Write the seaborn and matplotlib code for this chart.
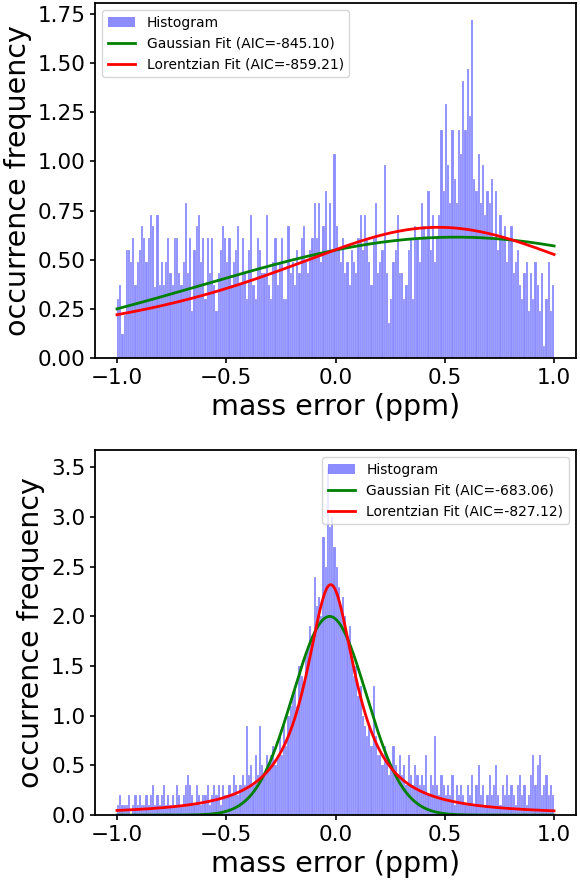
import numpy as np
import pandas as pd
import seaborn as sns
import matplotlib
matplotlib.use("Agg")
import matplotlib.pyplot as plt
from matplotlib.patches import Patch

# ------------------- Data -------------------
bin_edges = np.round(np.arange(-1.0, 1.0001, 0.01), 3)
bin_centers = (bin_edges[:-1] + bin_edges[1:]) / 2

# top panel histogram heights (200 bins, -1..1)
top_heights = [
    0.30, 0.37, 0.12, 0.22, 0.55, 0.55, 0.49, 0.61, 0.37, 0.49,
    0.55, 0.67, 0.61, 0.49, 0.61, 0.73, 0.67, 0.36, 0.73, 0.37,
    0.49, 0.37, 0.49, 0.61, 0.43, 0.37, 0.61, 0.61, 0.43, 0.37,
    0.49, 0.79, 0.43, 0.61, 0.24, 0.55, 0.67, 0.73, 0.49, 0.61,
    0.30, 0.61, 0.43, 0.61, 0.37, 0.24, 0.43, 0.55, 0.67, 0.61,
    0.49, 0.61, 0.37, 0.49, 0.55, 0.67, 0.37, 0.61, 0.43, 0.30,
    0.55, 0.73, 0.37, 0.30, 0.61, 0.55, 0.43, 0.43, 0.73, 0.37,
    0.30, 0.49, 0.61, 0.37, 0.49, 0.61, 0.30, 0.30, 0.67, 0.43,
    0.49, 0.37, 0.55, 0.43, 0.61, 0.67, 0.49, 0.43, 0.55, 0.61,
    0.79, 0.61, 0.79, 0.49, 0.67, 0.85, 0.55, 0.79, 0.55, 1.04,
    0.67, 0.55, 0.49, 0.61, 0.43, 0.49, 0.37, 0.55, 0.49, 0.43,
    0.61, 0.73, 0.55, 0.73, 0.61, 0.49, 0.37, 0.61, 0.79, 0.43,
    0.49, 0.55, 0.98, 0.43, 0.18, 0.30, 0.49, 0.55, 0.73, 0.43,
    0.43, 0.30, 0.37, 0.55, 0.61, 0.30, 0.67, 0.61, 0.49, 0.79,
    0.67, 0.61, 0.85, 0.55, 0.73, 0.49, 0.61, 0.73, 1.16, 0.85,
    1.29, 0.98, 0.79, 1.16, 0.91, 0.79, 1.16, 1.04, 1.41, 1.16,
    1.47, 1.23, 1.72, 0.91, 0.85, 1.04, 0.79, 0.98, 0.73, 0.85,
    0.79, 0.91, 0.61, 0.85, 0.55, 0.73, 0.61, 0.67, 0.49, 0.61,
    0.67, 0.43, 0.49, 0.55, 0.37, 0.30, 0.43, 0.49, 0.24, 0.43,
    0.30, 0.49, 0.37, 0.24, 0.43, 0.06, 0.30, 0.49, 0.24, 0.37,
]

# bottom panel histogram heights (200 bins, -1..1)
bottom_heights = [
    0.1, 0.2, 0.1, 0.1, 0.1, 0.2, 0.0, 0.1, 0.2, 0.1,
    0.2, 0.1, 0.1, 0.2, 0.1, 0.2, 0.3, 0.1, 0.2, 0.1,
    0.2, 0.3, 0.1, 0.2, 0.1, 0.2, 0.1, 0.3, 0.2, 0.1,
    0.2, 0.3, 0.4, 0.3, 0.2, 0.1, 0.3, 0.2, 0.1, 0.2,
    0.2, 0.3, 0.1, 0.2, 0.3, 0.2, 0.3, 0.1, 0.3, 0.2,
    0.2, 0.3, 0.2, 0.4, 0.3, 0.2, 0.3, 0.4, 0.3, 0.9,
    0.4, 0.5, 0.3, 0.6, 0.4, 0.9, 0.5, 0.4, 0.6, 0.5,
    0.6, 0.7, 0.5, 0.6, 0.8, 0.6, 0.9, 0.7, 1.0, 1.1,
    1.2, 1.3, 1.1, 1.5, 1.4, 1.3, 1.6, 1.7, 1.9, 1.8,
    2.4, 2.1, 2.2, 2.0, 2.8, 2.5, 3.5, 2.9, 3.0, 2.7,
    2.5, 2.3, 2.1, 2.2, 2.0, 1.8, 1.9, 1.6, 1.4, 1.5,
    1.2, 1.3, 1.0, 0.9, 0.8, 0.9, 0.7, 1.3, 0.8, 0.6,
    0.6, 0.5, 0.7, 0.6, 0.4, 0.5, 0.7, 0.5, 0.4, 0.6,
    0.4, 0.5, 0.3, 0.6, 0.4, 0.3, 0.5, 0.4, 0.3, 0.4,
    0.3, 0.6, 0.2, 0.4, 0.3, 0.8, 0.3, 0.2, 0.4, 0.3,
    0.2, 0.3, 0.2, 0.4, 0.1, 0.3, 0.2, 0.3, 0.2, 0.1,
    0.3, 0.2, 0.4, 0.1, 0.3, 0.5, 0.2, 0.3, 0.1, 0.2,
    0.4, 0.2, 0.3, 0.5, 0.2, 0.1, 0.3, 0.2, 0.4, 0.2,
    0.3, 0.2, 0.1, 0.3, 0.4, 0.2, 0.3, 0.1, 0.2, 0.4,
    0.6, 0.3, 0.5, 0.6, 0.2, 0.3, 0.4, 0.2, 0.3, 0.2,
]

# fit parameters (amplitude, centre, width)
top_gauss = (0.615, 0.55, 1.155)
top_lorentz = (0.665, 0.47, 1.034)
bottom_gauss = (2.0, -0.027, 0.168)
bottom_lorentz = (2.32, -0.022, 0.14)

top_labels = ["Histogram", "Gaussian Fit (AIC=-845.10)", "Lorentzian Fit (AIC=-859.21)"]
bottom_labels = ["Histogram", "Gaussian Fit (AIC=-683.06)", "Lorentzian Fit (AIC=-827.12)"]


def gaussian(x, a, mu, s):
    return a * np.exp(-(x - mu) ** 2 / (2 * s ** 2))


def lorentzian(x, a, x0, g):
    return a / (1 + ((x - x0) / g) ** 2)


xs = np.linspace(-1, 1, 400)

plt.rcParams['axes.linewidth'] = 1.3
plt.rcParams['xtick.major.width'] = 1.2
plt.rcParams['ytick.major.width'] = 1.2

fig = plt.figure(figsize=(5.8, 8.85), dpi=100)
ax_top = fig.add_axes([0.164, 0.5955, 0.829, 0.401])
ax_bot = fig.add_axes([0.164, 0.079, 0.829, 0.4125])


def draw_panel(ax, heights, gpar, lpar, labels, loc):
    df = pd.DataFrame({'x': bin_centers, 'h': heights})
    sns.histplot(data=df, x='x', weights='h', binwidth=0.01, binrange=(-1.0, 1.0),
                 ax=ax, color='blue', alpha=0.45, linewidth=0.25,
                 edgecolor=(1, 1, 1, 0.5))
    sns.lineplot(x=xs, y=gaussian(xs, *gpar), color='green', lw=2, ax=ax)
    sns.lineplot(x=xs, y=lorentzian(xs, *lpar), color='red', lw=2, ax=ax)
    handles = [Patch(facecolor='blue', alpha=0.45),
               ax.lines[0], ax.lines[1]]
    ax.legend(handles, labels, loc=loc, fontsize=10)
    ax.set_xlim(-1.1, 1.1)
    ax.set_xticks([-1.0, -0.5, 0.0, 0.5, 1.0])
    ax.set_xlabel('mass error (ppm)', fontsize=20.5)
    ax.set_ylabel('occurrence frequency', fontsize=20.5)
    ax.tick_params(labelsize=15.5)


draw_panel(ax_top, top_heights, top_gauss, top_lorentz, top_labels, 'upper left')
draw_panel(ax_bot, bottom_heights, bottom_gauss, bottom_lorentz, bottom_labels, 'upper right')

fig.savefig('out.png', dpi=100)
